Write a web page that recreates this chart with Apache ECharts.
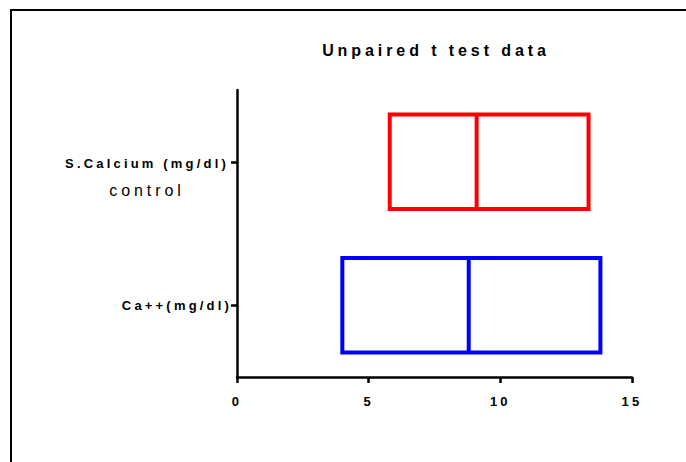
<!DOCTYPE html>
<html>
<head>
<meta charset="utf-8">
<script src="https://cdn.jsdelivr.net/npm/echarts@6/dist/echarts.min.js"></script>
<style>
  html, body { margin: 0; padding: 0; background: #fff; }
  #chart { width: 686px; height: 462px; }
  /* wide tracking on all chart text */
  #chart text { letter-spacing: 0.245em; }
</style>
</head>
<body>
<div id="chart"></div>
<script>
// Groups, listed top to bottom
const categories = ['S.Calcium (mg/dl)\ncontrol', 'Ca++(mg/dl)'];
// Box extents and medians (mg/dl)
const lowerValues = [5.8, 4.0];
const medianValues = [9.1, 8.8];
const upperValues = [13.35, 13.8];
const boxColors = ['#ff0000', '#0000ff'];
const xTicks = [0, 5, 10, 15];

const FONT = '"Liberation Sans", Arial, sans-serif';

const chart = echarts.init(document.getElementById('chart'), null, { renderer: 'svg' });

const boxData = categories.map((c, i) => [i, lowerValues[i], medianValues[i], upperValues[i]]);

chart.setOption({
  backgroundColor: '#ffffff',
  animation: false,
  graphic: [
    {
      type: 'rect',
      shape: { x: 11, y: 10, width: 800, height: 600 },
      style: { fill: 'none', stroke: '#000', lineWidth: 2 },
      silent: true
    },
    {
      type: 'text',
      x: 436,
      y: 50,
      style: {
        text: 'Unpaired t test data',
        font: 'bold 16px ' + FONT,
        fill: '#000',
        align: 'center',
        verticalAlign: 'middle'
      }
    }
  ],
  grid: { left: 237, right: 54, top: 90, bottom: 85, containLabel: false },
  xAxis: {
    type: 'value',
    min: xTicks[0],
    max: xTicks[xTicks.length - 1],
    interval: 5,
    splitLine: { show: false },
    axisLine: { show: true, lineStyle: { color: '#000', width: 2.5 } },
    axisTick: { show: true, length: 6, lineStyle: { color: '#000', width: 2.5 } },
    axisLabel: {
      color: '#000', fontFamily: FONT, fontWeight: 'bold', fontSize: 13, margin: 18
    }
  },
  yAxis: {
    type: 'category',
    inverse: true,
    data: categories,
    axisLine: { show: true, lineStyle: { color: '#000', width: 2.5 } },
    axisTick: { show: true, alignWithLabel: true, length: 6, lineStyle: { color: '#000', width: 2.5 } },
    splitLine: { show: false },
    axisLabel: {
      margin: 5,
      color: '#000',
      fontFamily: FONT,
      formatter: function (v) {
        const parts = v.split('\n');
        if (parts.length > 1) {
          // spacer line keeps the first line level with the tick
          return '{s| }\n{a|' + parts[0] + '}\n{b|' + parts[1] + '}';
        }
        return '{c|' + v + '}';
      },
      rich: {
        s: { fontSize: 12, lineHeight: 31, width: 170 },
        a: { fontFamily: FONT, fontWeight: 'bold', fontSize: 13, lineHeight: 26, width: 170, align: 'center', color: '#000' },
        b: { fontFamily: FONT, fontSize: 16, lineHeight: 27, width: 170, align: 'center', color: '#000' },
        c: { fontFamily: FONT, fontWeight: 'bold', fontSize: 13, color: '#000' }
      }
    }
  },
  series: [{
    type: 'custom',
    encode: { y: 0, x: [1, 2, 3] },
    data: boxData,
    renderItem: function (params, api) {
      const cat = api.value(0);
      const lo = api.coord([api.value(1), cat]);
      const md = api.coord([api.value(2), cat]);
      const hi = api.coord([api.value(3), cat]);
      const h = api.size([0, 1])[1] * 0.66;
      const color = boxColors[params.dataIndex];
      return {
        type: 'group',
        children: [
          {
            type: 'rect',
            shape: { x: lo[0], y: lo[1] - h / 2, width: hi[0] - lo[0], height: h },
            style: { fill: 'none', stroke: color, lineWidth: 4 }
          },
          {
            type: 'line',
            shape: { x1: md[0], y1: lo[1] - h / 2, x2: md[0], y2: lo[1] + h / 2 },
            style: { stroke: color, lineWidth: 4 }
          }
        ]
      };
    }
  }]
});
</script>
</body>
</html>
